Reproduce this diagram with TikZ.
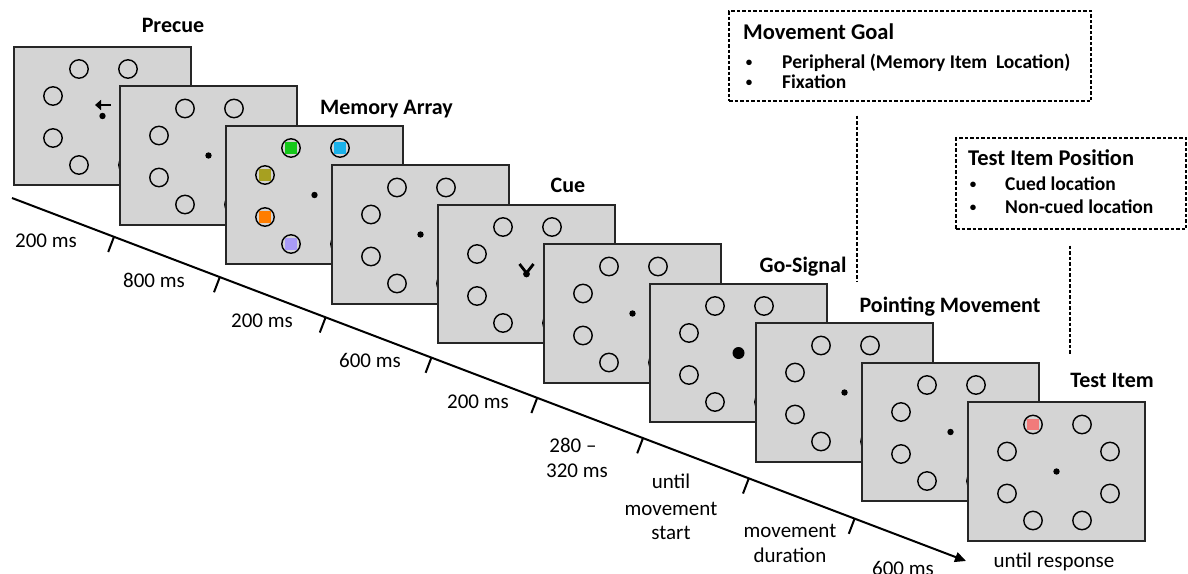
\documentclass[tikz,border=0pt]{standalone}
\usepackage{fontspec}
\setmainfont{Carlito}
\usetikzlibrary{arrows.meta,calc}

\definecolor{screengray}{HTML}{D4D4D4}
\definecolor{framecol}{HTML}{262626}
\definecolor{itemgreen}{HTML}{15C81A}
\definecolor{itemcyan}{HTML}{1BB2EA}
\definecolor{itemolive}{HTML}{A7A020}
\definecolor{itemorange}{HTML}{FF7D00}
\definecolor{itemlilac}{HTML}{A99CF7}
\definecolor{itempink}{HTML}{F17A7A}

% one display screen: frame, coloured items (#2), eight placeholders, centre content (#3)
\newcommand\stimscreen[3]{%
  \node[screenbox] (scr#1) at ({102.5+106*#1},{116+39.5*#1}) {};
  \begin{scope}[shift={(scr#1.center)}]
    #2
    \foreach \px/\py in {-23.5/-47,25.5/-47,-49.5/-20,53.5/-20,-49.5/22,53.5/22,-23.5/49,25.5/49}
      {\draw[loc] (\px,\py) circle[radius=9.2];}
    #3
  \end{scope}}

\begin{document}
\begin{tikzpicture}[x=1pt,y=-1pt,
  screenbox/.style={draw=framecol,line width=1.8pt,fill=screengray,
    minimum width=177.5pt,minimum height=138.5pt,inner sep=0pt,outer sep=0pt},
  loc/.style={draw=black,line width=1.4pt},
  fixdot/.style={fill=black},
  item/.style={fill=#1},
  cuemark/.style={draw=black,line width=2.8pt},
  title/.style={font=\fontsize{22}{26}\selectfont\bfseries,anchor=base,inner sep=0pt},
  dur/.style={font=\fontsize{21}{25}\selectfont,anchor=base,inner sep=0pt},
  notebox/.style={draw=black,line width=1.1pt,dash pattern=on 3.5pt off 2pt,inner sep=0pt},
  boxhead/.style={font=\fontsize{22.5}{26}\selectfont\bfseries,anchor=base west,inner sep=0pt},
  boxitem/.style={font=\fontsize{19.5}{23}\selectfont\bfseries,anchor=base west,inner sep=0pt},
  bul/.style={font=\fontsize{13}{15}\selectfont\bfseries,anchor=base,inner sep=0pt},
  dashlink/.style={draw=black,line width=1.1pt,dash pattern=on 3.5pt off 2pt},
  timeline/.style={draw=black,line width=2pt,-{Triangle[length=11pt,width=10pt]}},
  tickmark/.style={draw=black,line width=2pt}]

\useasboundingbox (0,0) rectangle (1188,573);

% time axis with interval ticks
\coordinate (tstart) at (12,198);
\coordinate (tend) at (966,561);
\draw[timeline] (tstart) -- (tend);
\foreach \k in {0,...,7}{
  \pgfmathsetmacro\tp{(114+105.8*\k-12)/954}
  \path (tstart) -- (tend) coordinate[pos=\tp] (tick\k);
  \draw[tickmark] (tick\k) -- ++(-5.8,15.2);
}

% screens, back to front
\stimscreen{0}{}{%
  \draw[draw=black,line width=2.6pt,-{Triangle[length=6pt,width=10pt]}] (8,-11) -- (-7.5,-11);
  \fill[fixdot] (0,0) circle[radius=3.2];}
\stimscreen{1}{}{\fill[fixdot] (0,0) circle[radius=3.2];}
\stimscreen{2}{%
  \fill[item=itemgreen]  (-23.5,-47) +(-5.9,-5.9) rectangle +(5.9,5.9);
  \fill[item=itemcyan]   (25.5,-47)  +(-5.9,-5.9) rectangle +(5.9,5.9);
  \fill[item=itemolive]  (-49.5,-20) +(-5.9,-5.9) rectangle +(5.9,5.9);
  \fill[item=itemorange] (-49.5,22)  +(-5.9,-5.9) rectangle +(5.9,5.9);
  \fill[item=itemlilac]  (-23.5,49)  +(-5.9,-5.9) rectangle +(5.9,5.9);}
  {\fill[fixdot] (0,0) circle[radius=3.2];}
\stimscreen{3}{}{\fill[fixdot] (0,0) circle[radius=3.2];}
\stimscreen{4}{}{%
  \draw[cuemark,line join=miter] (-7,-10) -- (0,-1) -- (7,-10);
  \fill[fixdot] (0,0) circle[radius=3.4];}
\stimscreen{5}{}{\fill[fixdot] (0,0) circle[radius=3.2];}
\stimscreen{6}{}{\fill[fixdot] (0,0) circle[radius=6];}
\stimscreen{7}{}{\fill[fixdot] (0,0) circle[radius=3.2];}
\stimscreen{8}{}{\fill[fixdot] (0,0) circle[radius=3.2];}
\stimscreen{9}{%
  \fill[item=itempink] (-23.5,-47) +(-5.9,-5.9) rectangle +(5.9,5.9);}
  {\fill[fixdot] (0,0) circle[radius=3.2];}

% screen titles
\node[title] (tprecue) at (173,32) {Precue};
\node[title] (tmemory) at (386.5,114) {Memory Array};
\node[title] (tcue) at (568,192) {Cue};
\node[title] (tgo) at (803,272) {Go-Signal};
\node[title] (tpoint) at (950,312) {Pointing Movement};
\node[title] (ttest) at (1112,387) {Test Item};

% interval durations
\node[dur] (d0) at (46,247) {200 ms};
\node[dur] (d1) at (154,287) {800 ms};
\node[dur] (d2) at (262,327) {200 ms};
\node[dur] (d3) at (370,367) {600 ms};
\node[dur] (d4) at (478,408) {200 ms};
\node[dur] (d5a) at (573,452) {280 –};
\node[dur] (d5b) at (577,477) {320 ms};
\node[dur] (d6a) at (671,488) {until};
\node[dur] (d6b) at (671,515) {movement};
\node[dur] (d6c) at (671,539) {start};
\node[dur] (d7a) at (790,537) {movement};
\node[dur] (d7b) at (790,562) {duration};
\node[dur] (d8) at (903,575) {600 ms};
\node[dur] (d9) at (1054,567) {until response};

% factor boxes
\node[notebox,minimum width=362pt,minimum height=90pt] (goalbox) at (910,56) {};
\node[boxhead] (goalhead) at (743,39) {Movement Goal};
\node[bul] (goalb1) at (749,66) {\textbullet};
\node[boxitem] (goali1) at (782,68) {Peripheral (Memory Item\ \ Location)};
\node[bul] (goalb2) at (749,86) {\textbullet};
\node[boxitem] (goali2) at (782,88) {Fixation};

\node[notebox,minimum width=230pt,minimum height=91pt] (posbox) at (1071,183.5) {};
\node[boxhead] (poshead) at (968,165) {Test Item Position};
\node[bul] (posb1) at (973,188) {\textbullet};
\node[boxitem] (posi1) at (1005,190) {Cued location};
\node[bul] (posb2) at (973,211) {\textbullet};
\node[boxitem] (posi2) at (1005,213) {Non-cued location};

% links from the factor boxes down to their screens
\coordinate (goalend) at (857,281);
\draw[dashlink,shorten <=14pt] (goalbox.south -| goalend) -- (goalend);
\coordinate (posend) at (1070,355);
\draw[dashlink,shorten <=16pt] (posbox.south -| posend) -- (posend);

\end{tikzpicture}
\end{document}
